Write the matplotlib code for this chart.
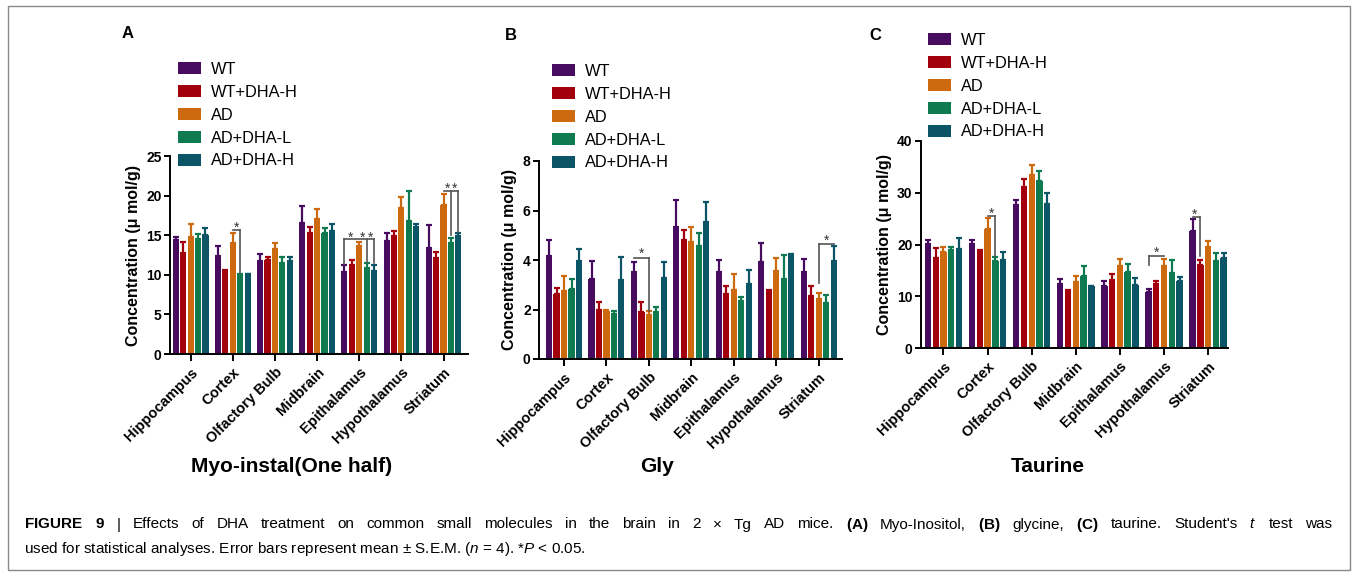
import numpy as np
import matplotlib.pyplot as plt
from matplotlib import font_manager
from matplotlib.patches import Patch, Rectangle

plt.rcParams['font.family'] = ['Liberation Sans', 'DejaVu Sans']

# the caption uses a condensed face when one is installed
try:
    font_manager.findfont('Liberation Sans Narrow', fallback_to_default=False)
    cap_family = 'Liberation Sans Narrow'
except ValueError:
    cap_family = 'Liberation Sans'
plt.rcParams['mathtext.fontset'] = 'custom'
plt.rcParams['mathtext.rm'] = cap_family
plt.rcParams['mathtext.it'] = cap_family + ':italic'
plt.rcParams['mathtext.bf'] = cap_family + ':bold'

# data
regions = ['Hippocampus', 'Cortex', 'Olfactory Bulb', 'Midbrain',
           'Epithalamus', 'Hypothalamus', 'Striatum']
groups = ['WT', 'WT+DHA-H', 'AD', 'AD+DHA-L', 'AD+DHA-H']
colors = ['#470b60', '#a3000e', '#cd6a10', '#0f7a50', '#0c5566']

# Myo-inositol (one half), umol/g, one row per group
myo_mean = [[14.4, 12.4, 11.7, 16.6, 10.4, 14.3, 13.4],
            [12.8, 10.5, 11.85, 15.3, 11.2, 14.9, 12.1],
            [14.8, 14.0, 13.2, 17.0, 13.65, 18.4, 18.8],
            [14.5, 9.8, 11.5, 15.25, 10.8, 16.85, 14.05],
            [15.0, 10.1, 11.8, 15.55, 10.45, 16.0, 14.95]]
myo_sem = [[0.4, 1.2, 0.9, 2.1, 0.8, 0.95, 2.9],
           [1.4, 0.05, 0.45, 0.7, 0.7, 0.6, 0.8],
           [1.6, 1.25, 0.8, 1.3, 0.55, 1.4, 1.4],
           [0.7, 0.25, 0.7, 0.65, 0.7, 3.75, 0.65],
           [0.9, 0.0, 0.5, 0.85, 0.85, 0.4, 0.3]]

# Glycine
gly_mean = [[4.16, 3.25, 3.5, 5.32, 3.52, 3.92, 3.52],
            [2.62, 2.0, 1.88, 4.8, 2.63, 2.74, 2.56],
            [2.74, 1.92, 1.79, 4.74, 2.77, 3.54, 2.44],
            [2.83, 1.83, 1.89, 4.58, 2.36, 3.25, 2.28],
            [3.95, 3.19, 3.29, 5.53, 3.05, 4.2, 3.95]]
gly_sem = [[0.64, 0.71, 0.43, 1.12, 0.48, 0.75, 0.52],
           [0.24, 0.32, 0.44, 0.4, 0.3, 0.03, 0.37],
           [0.63, 0.04, 0.13, 0.6, 0.65, 0.56, 0.22],
           [0.39, 0.09, 0.23, 0.52, 0.16, 0.95, 0.3],
           [0.48, 0.93, 0.64, 0.83, 0.53, 0.04, 0.63]]

# Taurine
tau_mean = [[20.1, 20.1, 27.6, 12.4, 12.0, 10.8, 22.6],
            [17.3, 18.8, 31.1, 11.1, 13.2, 12.3, 16.05],
            [18.5, 23.0, 33.4, 12.8, 15.9, 15.9, 19.45],
            [18.9, 16.9, 32.3, 13.9, 14.6, 14.45, 16.8],
            [19.1, 17.0, 27.9, 11.9, 12.2, 13.0, 17.3]]
tau_sem = [[0.8, 0.8, 1.0, 0.95, 1.0, 0.6, 2.3],
           [2.0, 0.15, 1.5, 0.1, 1.05, 0.7, 1.05],
           [0.95, 2.2, 1.9, 1.2, 1.3, 1.3, 1.25],
           [0.55, 0.75, 1.9, 2.0, 1.6, 2.55, 1.5],
           [2.2, 1.6, 2.1, 0.1, 1.4, 0.8, 1.1]]

# significance brackets: (region, from group, to group, level, [(drop group, drop bottom)], [star groups], star y)
myo_sig = [(1, 2, 3, 15.6, [(3, 10.2)], [2.5], 16.4),
           (4, 0, 4, 14.5, [(0, 11.4), (3, 11.6), (4, 11.5)], [0.8, 2.4, 3.5], 15.2),
           (6, 2, 4, 20.6, [(3, 15.0), (4, 15.4)], [2.5, 3.5], 21.4)]
gly_sig = [(2, 0, 2, 4.07, [(2, 1.95)], [1.0], 4.42),
           (6, 2, 4, 4.63, [(2, 3.06)], [3.0], 4.92)]
tau_sig = [(1, 2, 3, 25.5, [(3, 17.7)], [2.5], 26.8),
           (5, 0, 2, 17.85, [(0, 16.0)], [1.0], 19.1),
           (6, 0, 1, 25.4, [(1, 17.8)], [0.3], 26.6)]

cap1 = (r"$\mathbf{FIGURE}$ $\mathbf{9}$ | Effects of DHA treatment on common small molecules in the brain in "
        r"2 × Tg AD mice. $\mathbf{(A)}$ Myo-Inositol, $\mathbf{(B)}$ glycine, $\mathbf{(C)}$ taurine. "
        r"Student's $t$ test was")
cap2 = r"used for statistical analyses. Error bars represent mean ± S.E.M. ($n$ = 4). *$P$ < 0.05."

step = 0.176
width = 0.145

fig = plt.figure(figsize=(13.57, 5.75), dpi=100)
W, H = 1357, 575


def px_rect(left, right, top, bottom):
    return [left / W, 1 - bottom / H, (right - left) / W, (bottom - top) / H]


def draw_panel(ax, means, sems, ymax, ystep, xlim, sig):
    idx = np.arange(len(regions))
    for g in range(len(groups)):
        x = idx + (g - 2) * step
        ax.bar(x, means[g], width, color=colors[g], zorder=2, label=groups[g])
        ax.errorbar(x, means[g], yerr=[np.zeros(len(regions)), sems[g]], fmt='none',
                    ecolor=colors[g], elinewidth=1.6, capsize=2.5, capthick=1.6, zorder=3)
    for reg, g0, g1, level, drops, stars, sy in sig:
        x0 = reg + (g0 - 2) * step
        x1 = reg + (g1 - 2) * step
        ax.plot([x0, x1], [level, level], color='#555555', lw=1.2, zorder=4)
        for g, bottom in drops:
            xd = reg + (g - 2) * step
            ax.plot([xd, xd], [bottom, level], color='#555555', lw=1.2, zorder=4)
        for s in stars:
            ax.annotate('*', xy=(reg + (s - 2) * step, sy), xytext=(0, -8),
                        textcoords='offset pixels', ha='center', va='baseline',
                        fontsize=10, color='#333333')
    ax.set_xlim(*xlim)
    ax.set_ylim(0, ymax)
    yt = np.arange(0, ymax + 0.01, ystep)
    ax.set_yticks(yt)
    ax.set_yticklabels([f'{v:g}' for v in yt], fontweight='bold', fontsize=10)
    ax.set_xticks(idx)
    ax.set_xticklabels(regions, rotation=45, ha='right', va='top', rotation_mode='anchor',
                       fontweight='bold', fontsize=10.5)
    for side in ['top', 'right']:
        ax.spines[side].set_visible(False)
    for side in ['left', 'bottom']:
        ax.spines[side].set_linewidth(1.4)
    ax.tick_params(axis='both', direction='out', width=1.4, length=4, pad=2, colors='black')
    ax.tick_params(axis='x', length=5, pad=3)
    ax.set_ylabel('Concentration (μ mol/g)', fontweight='bold', fontsize=11.5, labelpad=4)


axA = fig.add_axes(px_rect(170, 468, 156, 354))
axB = fig.add_axes(px_rect(539, 842, 161, 359))
axC = fig.add_axes(px_rect(921, 1228, 141, 348))

draw_panel(axA, myo_mean, myo_sem, 25, 5, (-0.49, 6.58), myo_sig)
draw_panel(axB, gly_mean, gly_sem, 8, 2, (-0.59, 6.55), gly_sig)
draw_panel(axC, tau_mean, tau_sem, 40, 10, (-0.51, 6.45), tau_sig)

handles = [Patch(facecolor=c, edgecolor='none') for c in colors]
for lx, ty in [(178, 62), (552, 64), (928, 33)]:
    fig.legend(handles, groups, loc='upper left', bbox_to_anchor=(lx / W, 1 - ty / H),
               bbox_transform=fig.transFigure, frameon=False, fontsize=11.8,
               handlelength=1.4, handleheight=0.73, handletextpad=0.6,
               labelspacing=0.48, borderpad=0, borderaxespad=0)

for txt, x, y in [('A', 128, 33), ('B', 511, 35), ('C', 875, 35)]:
    fig.text(x / W, 1 - y / H, txt, ha='center', va='center', fontsize=12, fontweight='bold')

for txt, x, y in [('Myo-instal(One half)', 292, 467), ('Gly', 657, 467), ('Taurine', 1048, 467)]:
    fig.text(x / W, 1 - y / H, txt, ha='center', va='center', fontsize=15, fontweight='bold')

# caption: size set so the last line is as long as in the print,
# first line justified to the full text width
renderer = fig.canvas.get_renderer()
last = fig.text(24 / W, 1 - 553.5 / H, cap2, ha='left', va='baseline',
                fontsize=11, family=cap_family)
cap_size = 11 * 559 / last.get_window_extent(renderer).width
last.set_fontsize(cap_size)
words = [fig.text(0, 1 - 528.5 / H, w, ha='left', va='baseline', fontsize=cap_size, family=cap_family)
         for w in cap1.split(' ')]
widths = [t.get_window_extent(renderer).width for t in words]
gap = (1332 - 24 - sum(widths)) / (len(words) - 1)
xpos = 24
for t, w in zip(words, widths):
    t.set_x(xpos / W)
    xpos += w + gap

fig.add_artist(Rectangle((8 / W, 1 - 570 / H), (1350 - 8) / W, (570 - 6) / H,
                         transform=fig.transFigure, fill=False, edgecolor='#888888', lw=1))

fig.savefig('out.png', dpi=100)
